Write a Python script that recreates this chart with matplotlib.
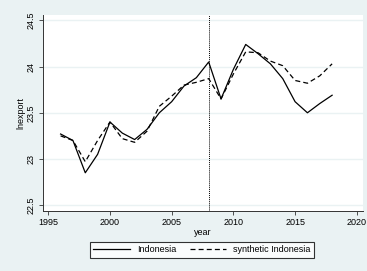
import matplotlib.pyplot as plt

plt.rcParams['font.family'] = ['Liberation Sans', 'DejaVu Sans']

years = list(range(1996, 2019))
indonesia = [23.27, 23.20, 22.85, 23.05, 23.40, 23.28, 23.21, 23.32, 23.50, 23.62,
             23.79, 23.88, 24.05, 23.65, 23.97, 24.24, 24.14, 24.03, 23.87, 23.62,
             23.50, 23.60, 23.69]
synthetic = [23.25, 23.20, 22.97, 23.20, 23.40, 23.22, 23.18, 23.30, 23.57, 23.68,
             23.80, 23.83, 23.87, 23.65, 23.92, 24.16, 24.15, 24.06, 24.01, 23.85,
             23.82, 23.90, 24.03]
treat_year = 2008
xticks = [1995, 2000, 2005, 2010, 2015, 2020]
yticks = [22.5, 23, 23.5, 24, 24.5]
ylabels = ['22.5', '23', '23.5', '24', '24.5']

bg = '#eaf2f3'
fig = plt.figure(figsize=(3.67, 2.71), dpi=100, facecolor=bg)
ax = fig.add_axes([0.117, 0.221, 0.872, 0.724])
ax.set_facecolor('white')

for y in yticks:
    ax.axhline(y, color='#eaf2f3', lw=1.0, zorder=0)

l1, = ax.plot(years, indonesia, color='black', lw=0.9, label='Indonesia')
l2, = ax.plot(years, synthetic, color='black', lw=0.9, ls=(0, (4, 2.5)),
              label='synthetic Indonesia')
ax.axvline(treat_year, color='black', lw=0.7, ls=(0, (1, 1)))

ax.set_xlim(1994.57, 2020.5)
ax.set_ylim(22.435, 24.56)
ax.set_xticks(xticks)
ax.set_yticks(yticks)
ax.set_yticklabels(ylabels, rotation=90, va='center')
ax.tick_params(labelsize=6.5, length=3, width=0.6, color='#333333', pad=2)
for s in ['top', 'right']:
    ax.spines[s].set_visible(False)
for s in ['left', 'bottom']:
    ax.spines[s].set_linewidth(0.7)
    ax.spines[s].set_color('#333333')

ax.set_xlabel('year', fontsize=6.5, labelpad=1)
ax.set_ylabel('lnexport', fontsize=6.5, labelpad=1)

leg = fig.legend(handles=[l1, l2], loc='center', bbox_to_anchor=(0.55, 0.078),
                 ncol=2, fontsize=6.5, frameon=True, fancybox=False,
                 handlelength=4, columnspacing=1.5, borderpad=0.4)
leg.get_frame().set_edgecolor('black')
leg.get_frame().set_linewidth(0.8)

fig.savefig('out.png', dpi=100, facecolor=bg)
